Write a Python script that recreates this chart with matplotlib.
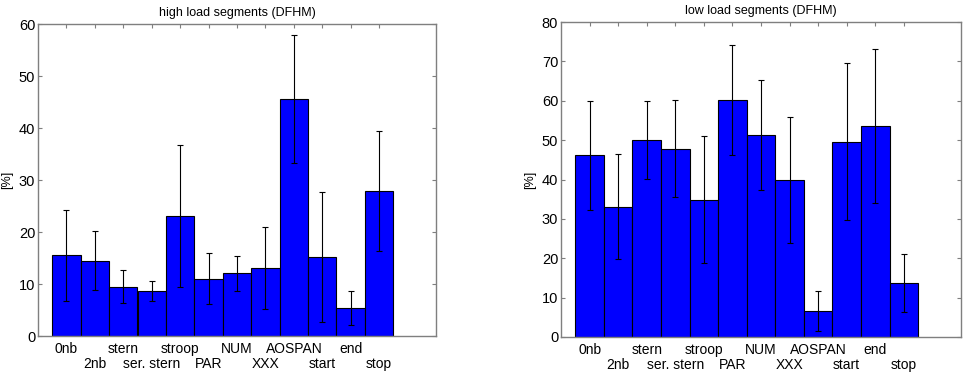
import numpy as np
import matplotlib
matplotlib.use('Agg')
from matplotlib import pyplot as plt

plt.rcParams['font.family'] = ['Liberation Sans', 'DejaVu Sans']

# condition names
labels = ['0nb', '2nb', 'stern', 'ser. stern', 'stroop', 'PAR', 'NUM',
          'XXX', 'AOSPAN', 'start', 'end', 'stop']

# high load segments: mean and error
high_mean = [15.5, 14.5, 9.5, 8.65, 23.1, 11.0, 12.05, 13.1, 45.5, 15.1, 5.4, 27.9]
high_err = [8.7, 5.6, 3.1, 2.0, 13.7, 4.9, 3.35, 7.9, 12.3, 12.5, 3.2, 11.6]

# low load segments: mean and error
low_mean = [46.1, 33.1, 50.1, 47.8, 34.9, 60.2, 51.3, 39.8, 6.7, 49.6, 53.6, 13.7]
low_err = [13.9, 13.4, 9.9, 12.3, 16.1, 14.0, 14.0, 16.0, 5.1, 19.9, 19.5, 7.3]

fig = plt.figure(figsize=(9.64, 3.75), dpi=100)
frame_col = '#7f7f7f'


# draw one matlab style bar panel
def bar_panel(rect, means, errs, ymax, title):
    ax = fig.add_axes(rect)
    x = np.arange(1, len(means) + 1)
    ax.bar(x, means, width=1.0, color='#0000ff', edgecolor='black',
           linewidth=0.8, zorder=1)
    ax.errorbar(x, means, yerr=errs, fmt='none', ecolor='black',
                elinewidth=0.8, capsize=2.5, capthick=0.8, zorder=3)
    ax.set_xlim(0, 14)
    ax.set_ylim(0, ymax)
    ax.set_yticks(np.arange(0, ymax + 1, 10))
    ax.set_xticks(x)
    ax.set_xticklabels([])
    ax.tick_params(axis='both', direction='in', length=3, width=0.8,
                   color=frame_col, labelsize=10.5, top=True, right=True,
                   bottom=False)
    ax.tick_params(axis='y', pad=2)
    for s in ax.spines.values():
        s.set_color(frame_col)
        s.set_linewidth(1.0)
        s.set_zorder(4)
    ax.set_title(title, fontsize=9, pad=6)
    ax.set_ylabel('[%]', fontsize=9, labelpad=4)
    # staggered category labels under the axis
    for i, lab in enumerate(labels):
        yoff = -0.019 if i % 2 == 0 else -0.068
        ax.text(x[i], yoff, lab, transform=ax.get_xaxis_transform(),
                ha='center', va='top', fontsize=10)
    return ax


bar_panel([38 / 964, 39 / 375, 398 / 964, 312 / 375], high_mean, high_err, 60,
          'high load segments (DFHM)')
bar_panel([561 / 964, 38 / 375, 400 / 964, 315 / 375], low_mean, low_err, 80,
          'low load segments (DFHM)')

fig.savefig('out.png', dpi=100)
